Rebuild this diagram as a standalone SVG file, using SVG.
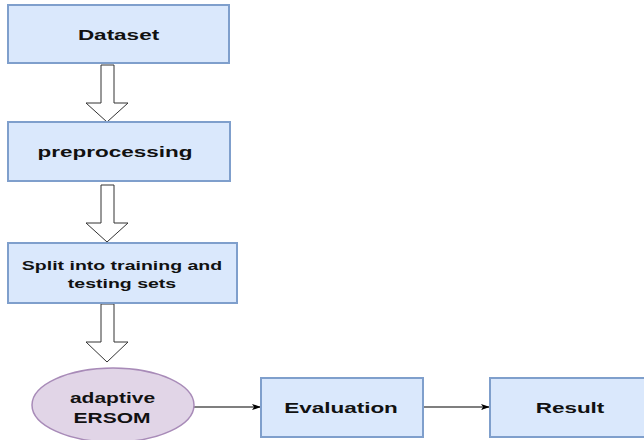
<svg xmlns="http://www.w3.org/2000/svg" width="644" height="440" viewBox="0 0 644 440">
<defs>
<style>
.box{fill:#dae8fc;stroke:#7f9fcc;stroke-width:2}
.ell{fill:#e1d5e7;stroke:#a88bb8;stroke-width:1.5}
.blk{fill:#ffffff;stroke:#333333;stroke-width:1}
.lbl{font-family:"Liberation Sans",Arial,sans-serif;font-weight:bold;fill:#111111;text-anchor:middle}
.con{stroke:#000000;stroke-width:1.2;fill:none}
</style>
<marker id="arr" viewBox="0 0 10 10" refX="9" refY="5" markerWidth="9" markerHeight="9" markerUnits="userSpaceOnUse" orient="auto">
<path d="M0,1.5 L10,5 L0,8.5 L2.5,5 Z" fill="#000"/>
</marker>
</defs>
<rect width="644" height="440" fill="#ffffff"/>
<g id="connectors">
<path class="blk" d="M101,65 H114 V103 H128 L107,122 L86,103 H101 Z"/>
<path class="blk" d="M101,185 H114 V223 H128 L107,242 L86,223 H101 Z"/>
<path class="blk" d="M101,304 H114 V342 H128 L107,362 L86,342 H101 Z"/>
<line class="con" x1="194" y1="407" x2="260" y2="407" marker-end="url(#arr)"/>
<line class="con" x1="423" y1="407" x2="489" y2="407" marker-end="url(#arr)"/>
</g>
<g id="dataset">
<rect class="box" x="8" y="5" width="221" height="58"/>
<text class="lbl" font-size="15" transform="translate(118.5,39.5) scale(1.5,1)" x="0" y="0">Dataset</text>
</g>
<g id="preprocessing">
<rect class="box" x="8" y="122" width="222" height="59"/>
<text class="lbl" font-size="15" transform="translate(115,156.5) scale(1.5,1)" x="0" y="0">preprocessing</text>
</g>
<g id="split">
<rect class="box" x="8" y="243" width="229" height="60"/>
<text class="lbl" font-size="13" transform="translate(122,270) scale(1.5,1)" x="0" y="0">Split into training and</text>
<text class="lbl" font-size="13" transform="translate(122,288) scale(1.5,1)" x="0" y="0">testing sets</text>
</g>
<g id="ersom">
<ellipse class="ell" cx="113" cy="405" rx="81" ry="37"/>
<text class="lbl" font-size="14" transform="translate(112.5,403) scale(1.5,1)" x="0" y="0">adaptive</text>
<text class="lbl" font-size="14" transform="translate(112,423) scale(1.5,1)" x="0" y="0">ERSOM</text>
</g>
<g id="evaluation">
<rect class="box" x="261" y="378" width="162" height="59"/>
<text class="lbl" font-size="15" transform="translate(341,412.5) scale(1.5,1)" x="0" y="0">Evaluation</text>
</g>
<g id="result">
<rect class="box" x="490" y="378" width="162" height="59"/>
<text class="lbl" font-size="15" transform="translate(570,412.5) scale(1.5,1)" x="0" y="0">Result</text>
</g>
</svg>
